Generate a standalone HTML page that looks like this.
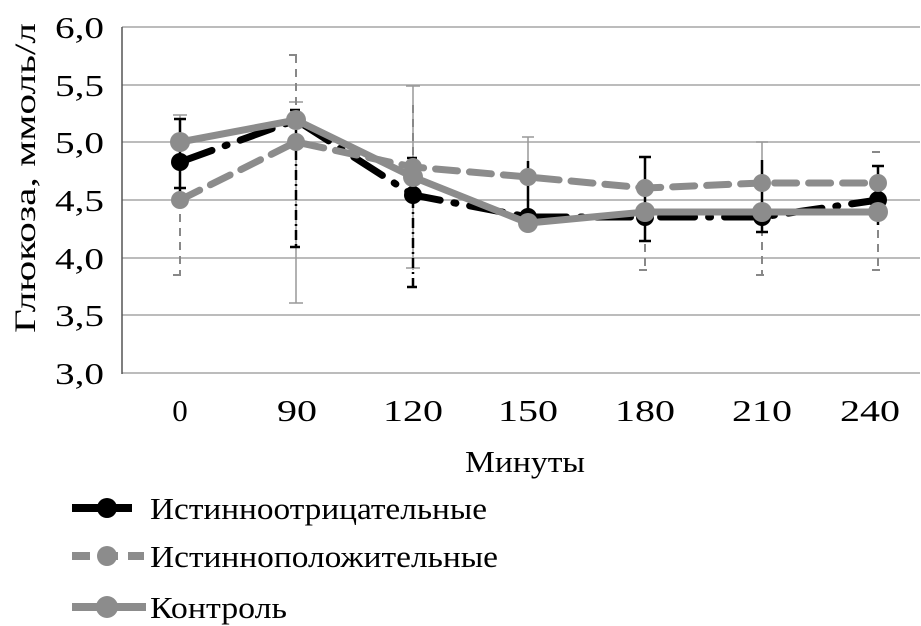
<!DOCTYPE html>
<html><head><meta charset="utf-8"><style>body{margin:0;background:#fff}svg{display:block}text{font-family:"Liberation Serif",serif;fill:#000}</style></head>
<body>
<svg width="921" height="626" viewBox="0 0 921 626" xmlns="http://www.w3.org/2000/svg">
<g stroke="#a6a6a6" stroke-width="1.5">
<line x1="122" y1="27" x2="920" y2="27"/><line x1="122" y1="85" x2="920" y2="85"/>
<line x1="122" y1="142" x2="920" y2="142"/><line x1="122" y1="200" x2="920" y2="200"/>
<line x1="122" y1="258" x2="920" y2="258"/><line x1="122" y1="315" x2="920" y2="315"/>
<line x1="122" y1="373" x2="920" y2="373"/>
</g>
<line x1="122" y1="27" x2="122" y2="374" stroke="#555" stroke-width="1.5"/>
<g font-size="31" text-anchor="end">
<text x="104" y="38" textLength="49" lengthAdjust="spacingAndGlyphs">6,0</text><text x="104" y="96" textLength="49" lengthAdjust="spacingAndGlyphs">5,5</text><text x="104" y="153" textLength="49" lengthAdjust="spacingAndGlyphs">5,0</text>
<text x="104" y="211" textLength="49" lengthAdjust="spacingAndGlyphs">4,5</text><text x="104" y="269" textLength="49" lengthAdjust="spacingAndGlyphs">4,0</text><text x="104" y="326" textLength="49" lengthAdjust="spacingAndGlyphs">3,5</text><text x="104" y="384" textLength="49" lengthAdjust="spacingAndGlyphs">3,0</text>
</g>
<g font-size="31" text-anchor="middle">
<text x="180" y="421">0</text><text x="297" y="421" textLength="40" lengthAdjust="spacingAndGlyphs">90</text><text x="413" y="421" textLength="60" lengthAdjust="spacingAndGlyphs">120</text>
<text x="528" y="421" textLength="60" lengthAdjust="spacingAndGlyphs">150</text><text x="645" y="421" textLength="60" lengthAdjust="spacingAndGlyphs">180</text><text x="762" y="421" textLength="60" lengthAdjust="spacingAndGlyphs">210</text><text x="870" y="421" textLength="60" lengthAdjust="spacingAndGlyphs">240</text>
<text x="525" y="472" textLength="120" lengthAdjust="spacingAndGlyphs">Минуты</text>
</g>
<text transform="translate(35,178) rotate(-90)" font-size="30" text-anchor="middle" textLength="310" lengthAdjust="spacingAndGlyphs">Глюкоза, ммоль/л</text>
<g stroke="#999" stroke-width="1.5" fill="none">
<path d="M180 115V142M173 115H187"/>
<path d="M296 120V303M289 303H303M289 102H303"/>
<path d="M413 86V270M406 86H420M406 268H420"/>
<path d="M528 137V221M522 137H534M522 221H534"/>
<path d="M762 142V200M756 142H768"/>
</g>
<g stroke="#888" stroke-width="2" stroke-dasharray="8,6" fill="none">
<path d="M180 200V275M173 275H187"/>
<path d="M296 55V142M289 55H303"/>
<path d="M413 105V188"/>
<path d="M645 188V270M639 270H651"/>
<path d="M762 200V275M756 275H768"/>
<path d="M878 188V270M872 270H884M872 152H884"/>
</g>
<g stroke="#000" stroke-width="2.5" fill="none">
<path d="M180 119V197M174 119H186M174 188H186"/>
<path d="M296 110V247M290 110H302M290 247H302" stroke-dasharray="10,4,2,4"/>
<path d="M413 158V287M407 158H419M407 287H419" stroke-dasharray="10,4,2,4"/>
<path d="M528 161V214M522 214H534"/>
<path d="M645 157V241M639 157H651M639 241H651"/>
<path d="M762 160V232M756 232H768"/>
<path d="M878 166V225M872 166H884"/>
</g>
<path d="M180 162L296 120L413 195L528 217L645 217L762 217L878 200" stroke="#000" stroke-width="7" fill="none" stroke-dasharray="34,14,2,14" stroke-linecap="round"/>
<g fill="#000"><circle cx="180" cy="162" r="9"/><circle cx="413" cy="195" r="9"/><circle cx="528" cy="217" r="9"/><circle cx="645" cy="217" r="9"/><circle cx="762" cy="217" r="9"/><circle cx="878" cy="200" r="9"/></g>
<path d="M180 200L296 142L413 167L528 177L645 188L762 183L878 183" stroke="#8c8c8c" stroke-width="7" fill="none" stroke-dasharray="22,12" stroke-linecap="round"/>
<g fill="#8c8c8c"><circle cx="180" cy="200" r="9"/><circle cx="296" cy="142" r="9"/><circle cx="413" cy="167" r="9"/><circle cx="528" cy="177" r="9"/><circle cx="645" cy="188" r="9"/><circle cx="762" cy="183" r="9"/><circle cx="878" cy="183" r="9"/></g>
<path d="M180 142L296 120L413 177L528 223L645 212L762 212L878 212" stroke="#8c8c8c" stroke-width="7" fill="none"/>
<g fill="#8c8c8c"><circle cx="180" cy="142" r="10"/><circle cx="296" cy="120" r="10"/><circle cx="413" cy="177" r="10"/><circle cx="528" cy="223" r="10"/><circle cx="645" cy="212" r="10"/><circle cx="762" cy="212" r="10"/><circle cx="878" cy="212" r="10"/></g>
<line x1="72" y1="508" x2="132" y2="508" stroke="#000" stroke-width="8"/><circle cx="107" cy="508" r="10" fill="#000"/>
<text x="150" y="519" font-size="31" textLength="337" lengthAdjust="spacingAndGlyphs">Истинноотрицательные</text>
<line x1="72" y1="556" x2="144" y2="556" stroke="#8c8c8c" stroke-width="8" stroke-dasharray="18,10"/><circle cx="107" cy="556" r="10" fill="#8c8c8c"/>
<text x="150" y="567" font-size="31" textLength="348" lengthAdjust="spacingAndGlyphs">Истинноположительные</text>
<line x1="72" y1="607" x2="146" y2="607" stroke="#8c8c8c" stroke-width="8"/><circle cx="107" cy="607" r="11" fill="#8c8c8c"/>
<text x="150" y="618" font-size="31" textLength="137" lengthAdjust="spacingAndGlyphs">Контроль</text>
</svg>
</body></html>
